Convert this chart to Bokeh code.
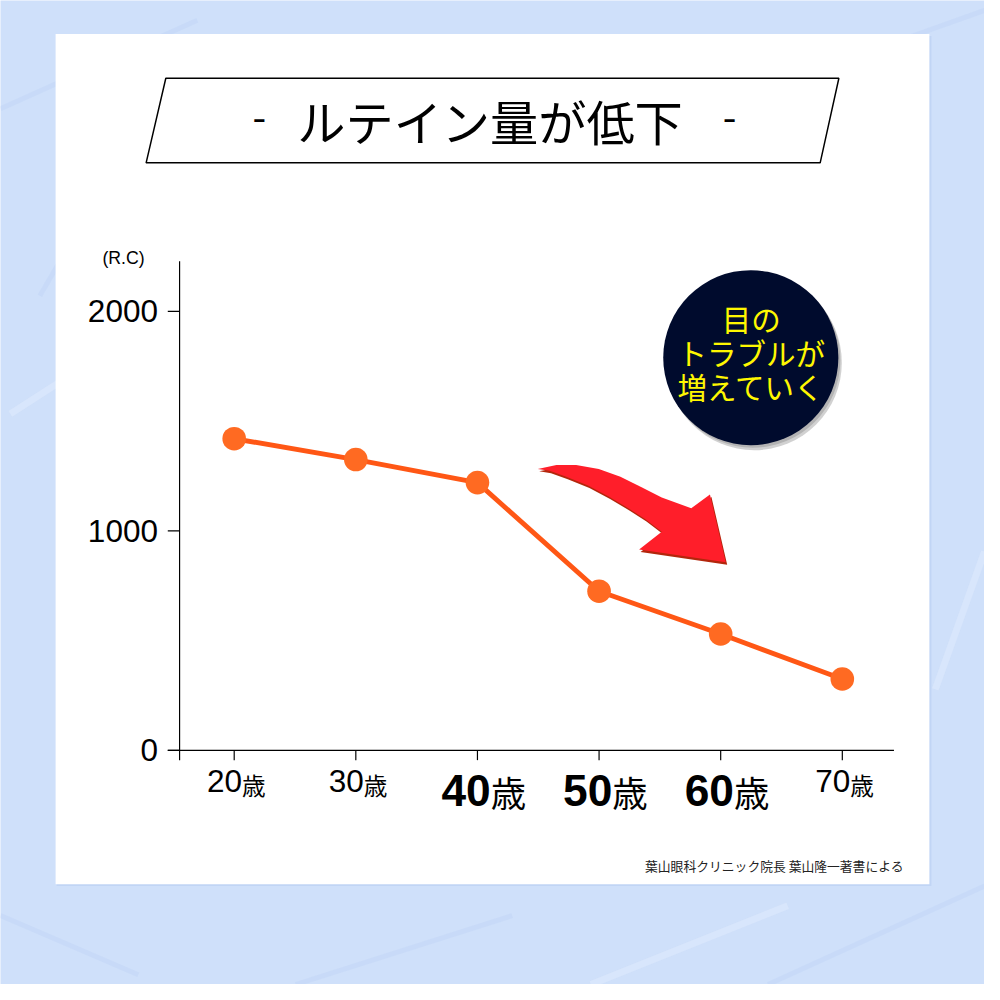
from bokeh.plotting import figure
from bokeh.models import Range1d
from bokeh.embed import file_html
from bokeh.resources import INLINE
from bokeh.core.properties import value

# ---------------- data ----------------
ages = [20, 30, 40, 50, 60, 70]
age_numbers = ["20", "30", "40", "50", "60", "70"]
age_unit = "歳"
emphasized = [False, False, True, True, True, False]
lutein = [1420, 1325, 1220, 725, 530, 325]
y_ticks = [0, 1000, 2000]
y_tick_labels = ["0", "1000", "2000"]
y_unit_label = "(R.C)"
title_text = "ルテイン量が低下"
badge_lines = ["目の", "トラブルが", "増えていく"]
source_note = "葉山眼科クリニック院長 葉山隆一著書による"

# ---------------- layout (design space 1000 x 1000, drawn at 984 px) ----------------
W = H = 984
D = 1000.0
S = W / D
X20, DX10 = 237.5, 123.6      # design x of age 20, design px per 10 years
Y0, DY1000 = 762.0, 223.0     # design y of value 0, design px per 1000


def fs(n):
    return f"{n * S:.1f}px"


JP = value("Noto Sans CJK JP")
LAT = value("Liberation Sans")

p = figure(width=W, height=H, x_range=Range1d(0, D), y_range=Range1d(D, 0),
           output_backend="svg", toolbar_location=None,
           x_axis_location=None, y_axis_location=None, min_border=0)
p.grid.visible = False
p.outline_line_color = None
p.background_fill_color = "#cfe0fa"
p.border_fill_color = "#cfe0fa"

ppy = DX10 / 10.0
ppv = DY1000 / 1000.0
p.extra_x_ranges = {"age": Range1d(20 - X20 / ppy, 20 + (D - X20) / ppy)}
p.extra_y_ranges = {"val": Range1d((Y0 - D) / ppv, Y0 / ppv)}

# background texture streaks
p.multi_line(xs=[[0, 200], [40, 180], [780, 1000], [0, 140], [860, 1000], [300, 520]],
             ys=[[110, 20], [300, 60], [1000, 900], [930, 990], [60, 10], [1000, 930]],
             line_color="#bdd2f5", line_width=5 * S, line_alpha=0.4)
p.multi_line(xs=[[10, 150], [950, 1000], [600, 800]],
             ys=[[420, 330], [700, 560], [1000, 920]],
             line_color="#e2ecfd", line_width=7 * S, line_alpha=0.5)

# white card with soft shadow
p.quad(left=57, right=946, top=36, bottom=900, fill_color="#b3c9ef", fill_alpha=0.5, line_color=None)
p.quad(left=56, right=944, top=34, bottom=898, fill_color="white", line_color=None)

# title box (parallelogram)
p.patch(x=[168, 852, 833, 148], y=[79, 79, 165, 165], fill_color="white",
        line_color="black", line_width=1.5 * S)
p.text(x=[497.5], y=[121], text=[title_text], text_font=JP, text_font_size=fs(49),
       text_align="center", text_baseline="middle", text_color="black")
p.text(x=[263, 741], y=[119, 119], text=["-", "-"], text_font=JP, text_font_size=fs(40),
       text_align="center", text_baseline="middle", text_color="black")

# axes (structural lines)
lw = 1.2 * S
p.segment(x0=[182], y0=[265], x1=[182], y1=[772], line_color="black", line_width=lw)
p.segment(x0=[170], y0=[762], x1=[908], y1=[762], line_color="black", line_width=lw)
p.segment(x0=[170] * len(y_ticks), x1=[182] * len(y_ticks), y0=y_ticks, y1=y_ticks,
          y_range_name="val", line_color="black", line_width=lw)
p.segment(x0=ages, x1=ages, y0=[762] * len(ages), y1=[772] * len(ages),
          x_range_name="age", line_color="black", line_width=lw)

# y tick labels
p.text(x=[160] * len(y_ticks), y=y_ticks, text=y_tick_labels, y_range_name="val",
       text_font=LAT, text_font_size=fs(32), text_align="right", text_baseline="middle",
       text_color="black")
p.text(x=[125], y=[262], text=[y_unit_label], text_font=LAT, text_font_size=fs(18),
       text_align="center", text_baseline="middle", text_color="black")

# x labels: number + unit
for a, num, emph in zip(ages, age_numbers, emphasized):
    if emph:
        off, ny, uy, nsize, usize, style = 13.5, 803, 804, 45, 36, "bold"
    else:
        off, ny, uy, nsize, usize, style = 8.0, 793, 797, 32, 24, "normal"
    p.text(x=[a], y=[ny], text=[num], x_range_name="age", x_offset=off * S,
           text_font=LAT, text_font_size=fs(nsize), text_font_style=style,
           text_align="right", text_baseline="middle", text_color="black")
    p.text(x=[a], y=[uy], text=[age_unit], x_range_name="age", x_offset=off * S,
           text_font=JP, text_font_size=fs(usize),
           text_align="left", text_baseline="middle", text_color="black")

# data line and points
p.line(x=ages, y=lutein, x_range_name="age", y_range_name="val",
       line_color="#ff5715", line_width=5 * S)
p.scatter(x=ages, y=lutein, x_range_name="age", y_range_name="val",
          size=24 * S, fill_color="#ff6a22", line_color=None)

# red curved arrow
ax = [546, 565, 585, 608, 630, 652, 672, 702, 721, 737, 649, 672, 655, 638, 618, 597, 575, 558]
ay = [476, 472, 472, 476, 484, 495, 505, 516, 502, 571, 558, 540, 527, 516, 504, 493, 484, 478]
p.patch(x=[v + 1.5 for v in ax], y=[v + 2.5 for v in ay], fill_color="#b3260c", line_color=None)
p.patch(x=ax, y=ay, fill_color="#ff1e2a", line_color=None)

# badge
p.circle(x=[766], y=[368], radius=89, fill_color="#9a9a9a", fill_alpha=0.45, line_color=None)
p.circle(x=[764.5], y=[365.5], radius=89, fill_color="#7a7a7a", fill_alpha=0.35, line_color=None)
p.circle(x=[762.5], y=[363], radius=89, fill_color="#000b2d", line_color=None)
p.text(x=[763] * 3, y=[323, 357, 392], text=badge_lines, text_font=JP,
       text_font_size=fs(30), text_align="center", text_baseline="middle",
       text_color="#fff700")

# source note
p.text(x=[918], y=[879], text=[source_note], text_font=JP, text_font_size=fs(13),
       text_align="right", text_baseline="middle", text_color="#222222")

open("out.html", "w").write(file_html(p, INLINE))
